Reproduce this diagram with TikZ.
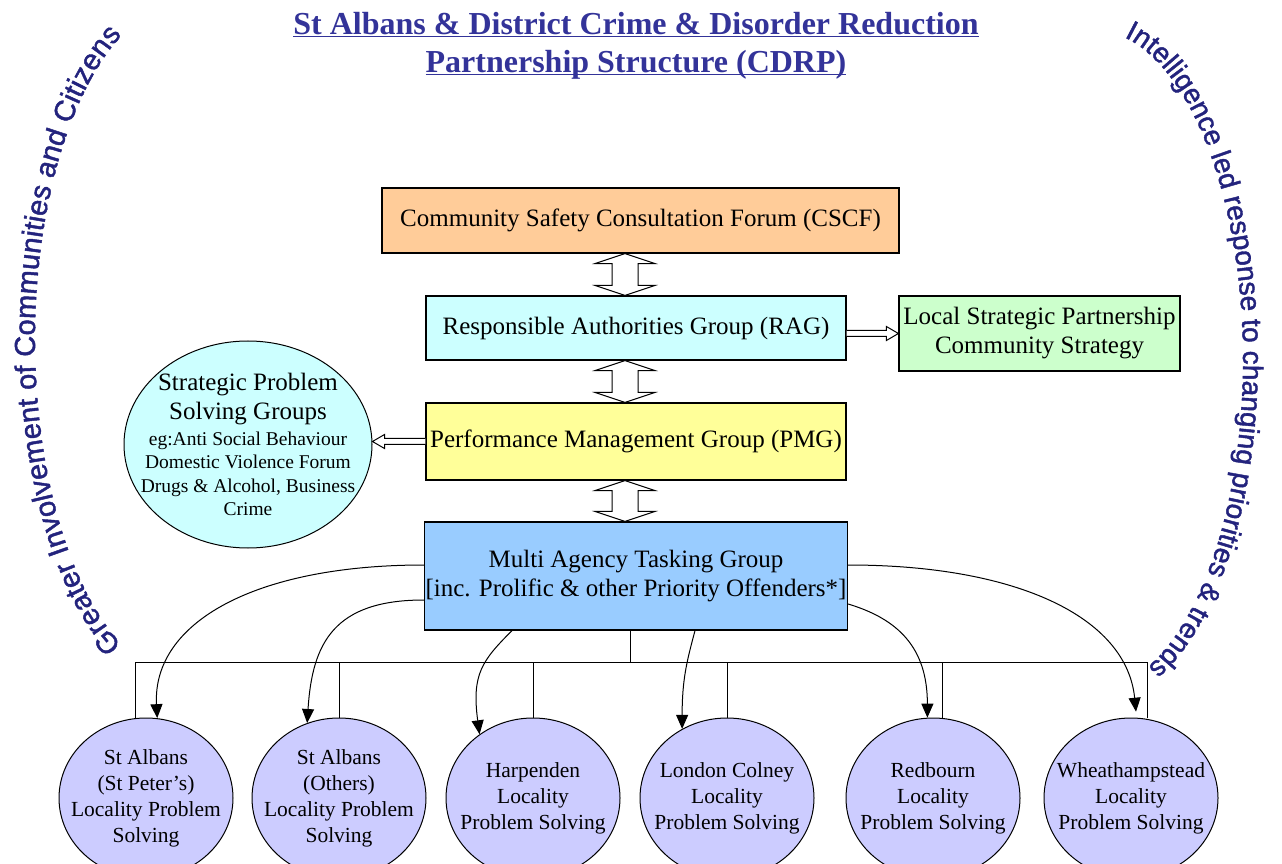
\documentclass[tikz,border=0pt]{standalone}
\usepackage{fontspec}
\setmainfont{Liberation Serif}
\setsansfont{Liberation Sans}
\newfontfamily\arcfamily[FakeBold=1.5]{Liberation Sans}
\usetikzlibrary{positioning,shapes.geometric,arrows.meta,calc,decorations.text}

\definecolor{titleblue}{RGB}{51,51,153}
\definecolor{arcblue}{RGB}{35,35,125}
\definecolor{forum}{RGB}{255,204,153}
\definecolor{authority}{RGB}{204,255,255}
\definecolor{strategy}{RGB}{204,255,204}
\definecolor{performance}{RGB}{255,255,153}
\definecolor{tasking}{RGB}{153,204,255}
\definecolor{locality}{RGB}{204,204,255}

\newcommand{\titlefont}{\fontsize{32}{38}\selectfont\bfseries}
\newcommand{\boxfont}{\fontsize{25}{29}\selectfont}
\newcommand{\notefont}{\fontsize{19.5}{23.5}\selectfont}
\newcommand{\areafont}{\fontsize{21.5}{26}\selectfont}
\newcommand{\arcfont}{\arcfamily\fontsize{29}{29}\selectfont}
\newcommand{\arcfontsmall}{\arcfamily\fontsize{28}{28}\selectfont}

% hollow two-way arrow between two stacked boxes
\newcommand{\updown}[2]{%
  \draw[hollow] let \p1=(#1.south -| axis), \p2=(#2.north -| axis) in
    (\p1) -- ++(-30,-10) -- ++(17,0) -- (\x1-13pt,\y2+10pt) -- ++(-17,0)
    -- (\p2) -- ++(30,10) -- ++(-17,0) -- (\x1+13pt,\y1-10pt) -- ++(17,0) -- cycle;}
% hollow one-way arrow, tail #1, tip #2
\newcommand{\sidearrow}[2]{%
  \draw[hollow] let \p1=(#1), \p2=(#2), \p3=($(#2)!12pt!(#1)$) in
    (\x1,\y1+3pt) -- (\x3,\y1+3pt) -- (\x3,\y1+7pt) -- (\x2,\y1)
    -- (\x3,\y1-7pt) -- (\x3,\y1-3pt) -- (\x1,\y1-3pt);}

\begin{document}
\begin{tikzpicture}[x=1pt, y=1pt,
    groupbox/.style = {draw, line width=1.2pt, minimum width=420pt, minimum height=64pt, inner sep=1pt, align=center, font=\boxfont},
    localarea/.style = {draw, ellipse, fill=locality, line width=1pt, minimum width=174pt, minimum height=160pt, inner sep=-14pt, align=center, font=\areafont},
    tasklink/.style = {line width=1pt, -{Triangle[length=14pt,width=12pt]}},
    hollow/.style = {draw, fill=white, line width=1pt}]
  \useasboundingbox (0,0) rectangle (1282,863);
  \clip (0,0) rectangle (1282,863);
  \node[font=\titlefont, text=titleblue, align=center] (title) at (636,808) {\underline{\smash{St Albans \& District Crime \& Disorder Reduction}}\\\underline{\smash{Partnership Structure (CDRP)}}};
  % boxes
  \node[groupbox, fill=forum, minimum width=517pt, minimum height=65pt] (cscf) at (640.5,642.5) {Community Safety Consultation Forum (CSCF)};
  \node[groupbox, fill=authority] (rag) at (636,535) {Responsible Authorities Group (RAG)};
  \node[groupbox, fill=strategy, minimum width=281pt, minimum height=75pt] (lsp) at (1039.5,529.5) {Local Strategic Partnership\\Community Strategy};
  \node[groupbox, fill=performance, minimum height=77pt] (pmg) at (636,421.5) {Performance Management Group (PMG)};
  \node[groupbox, fill=tasking, minimum height=108pt] (matg) at (636,287) {Multi Agency Tasking Group\\{}[inc. Prolific \& other Priority Offenders*]};
  \node[draw, ellipse, fill=authority, line width=1pt, minimum width=248pt, minimum height=207pt, inner sep=-20pt, align=center, font=\notefont] (spsg) at (248,418.5) {\boxfont Strategic Problem\\[6pt]\boxfont Solving Groups\\[2pt]\notefont eg:Anti Social Behaviour\\Domestic Violence Forum\\Drugs \& Alcohol, Business\\Crime};
  % localities
  \node[localarea] (loc1) at (146,65) {St Albans\\(St Peter's)\\Locality Problem\\Solving};
  \node[localarea, node distance=193pt, right of=loc1] (loc2) {St Albans\\(Others)\\Locality Problem\\Solving};
  \node[localarea, node distance=194pt, right of=loc2] (loc3) {Harpenden\\Locality\\Problem Solving};
  \node[localarea, node distance=194pt, right of=loc3] (loc4) {London Colney\\Locality\\Problem Solving};
  \node[localarea, node distance=206pt, right of=loc4] (loc5) {Redbourn\\Locality\\Problem Solving};
  \node[localarea, node distance=198pt, right of=loc5] (loc6) {Wheathampstead\\Locality\\Problem Solving};
  % block arrows
  \coordinate (axis) at (625,0);
  \updown{cscf}{rag}
  \updown{rag}{pmg}
  \updown{pmg}{matg}
  \sidearrow{rag.east |- lsp.west}{lsp.west}
  \sidearrow{pmg.west}{pmg.west -| spsg.east}
  % tree
  \coordinate (hub) at (630,201);
  \draw[line width=1pt] (matg.south -| hub) -- (hub);
  \draw[line width=1pt] ([xshift=-11pt]loc1.north) |- ([xshift=16pt]loc6.north |- hub) -- ([xshift=16pt]loc6.north);
  \foreach \n/\dx in {2/0,3/0,4/0,5/9}
    \draw[line width=1pt] ([xshift=\dx pt]loc\n.north) -- ([xshift=\dx pt]loc\n.north |- hub);
  % tasking links
  \draw[tasklink] ([yshift=11pt]matg.west) .. controls +(-170,0) and +(-5,95) .. (loc1.82);
  \draw[tasklink] ([yshift=-24pt]matg.west) .. controls +(-90,0) and +(5,80) .. (loc2.113);
  \draw[tasklink] ([xshift=-124pt]matg.south) .. controls +(-30,-30) and +(-8,60) .. (loc3.130);
  \draw[tasklink] ([xshift=59pt]matg.south) .. controls +(-8,-30) and +(0,50) .. (loc4.123);
  \draw[tasklink] ([yshift=-28pt]matg.east) .. controls +(50,-15) and +(0,70) .. (loc5.94);
  \draw[tasklink, shorten >=6pt] ([yshift=11pt]matg.east) .. controls +(170,0) and +(-10,100) .. (loc6.86);
  % arched texts
  \path[decorate, decoration={text along path, text align=fit to path,
      text={|\arcfont\color{arcblue}|Greater Involvement of Communities and Citizens}}]
    (191,523) ++(243.8:156 and 340) arc[start angle=243.8, end angle=116.2, x radius=156pt, y radius=340pt];
  \path[decorate, decoration={text along path, text align=left,
      text={|\arcfontsmall\color{arcblue}|Intelligence led response to changing priorities {\&} trends}}]
    (1093,503) ++(78:150 and 330) arc[start angle=78, end angle=-88, x radius=150pt, y radius=330pt];
\end{tikzpicture}
\end{document}
